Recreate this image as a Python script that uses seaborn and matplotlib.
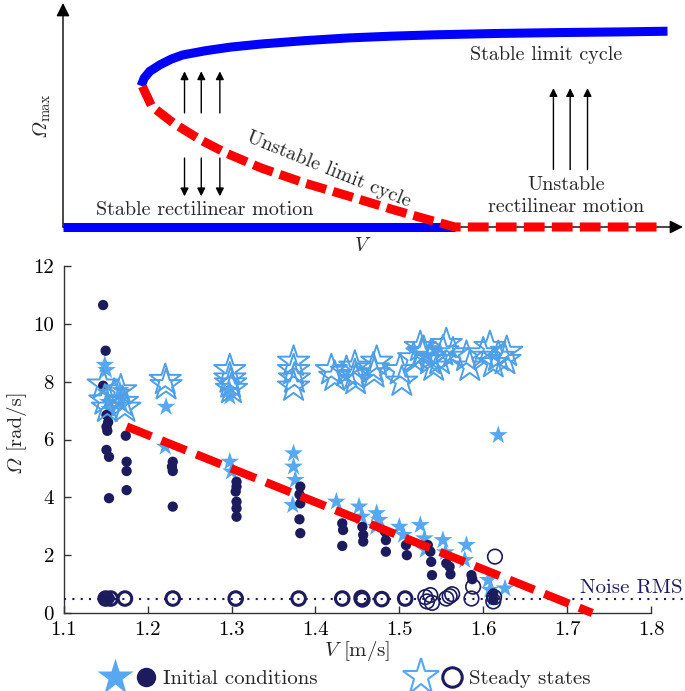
import matplotlib
matplotlib.use('Agg')
import matplotlib.pyplot as plt
from matplotlib.lines import Line2D
from matplotlib.legend_handler import HandlerTuple
import seaborn as sns

# ---------------- data ----------------
# top panel (schematic bifurcation diagram, axis units 0..1)
stable_lc_x = [0.126, 0.131, 0.140, 0.157, 0.175, 0.193, 0.23, 0.27, 0.32, 0.39,
               0.46, 0.53, 0.60, 0.70, 0.80, 0.90, 0.975]
stable_lc_y = [0.630, 0.665, 0.695, 0.725, 0.750, 0.768, 0.787, 0.803, 0.817, 0.832,
               0.844, 0.852, 0.858, 0.864, 0.868, 0.871, 0.874]
unstable_lc_x = [0.128, 0.143, 0.178, 0.221, 0.263, 0.32, 0.39, 0.462, 0.533, 0.589, 0.632, 0.961]
unstable_lc_y = [0.628, 0.539, 0.464, 0.390, 0.330, 0.263, 0.196, 0.137, 0.077, 0.033, 0.0, 0.0]
stable_rect_x = [0.0, 0.632]
stable_rect_y = [0.0, 0.0]

# bottom panel, initial conditions (filled stars / filled dots)
init_star_v = [1.149, 1.151, 1.153, 1.155, 1.167, 1.169, 1.170,
               1.222, 1.221, 1.298, 1.298, 1.298, 1.300,
               1.374, 1.374, 1.376, 1.373, 1.425, 1.452, 1.455,
               1.473, 1.476, 1.472, 1.500, 1.505, 1.525, 1.530, 1.531,
               1.552, 1.555, 1.580, 1.578, 1.606, 1.608, 1.626, 1.612, 1.618]
init_star_w = [8.58, 8.40, 7.30, 7.05, 7.71, 7.40, 7.20,
               7.13, 5.75, 7.71, 7.48, 5.23, 4.89,
               5.52, 5.06, 4.60, 3.73, 3.85, 3.68, 3.33,
               3.45, 3.22, 2.98, 2.98, 2.70, 3.04, 2.58, 2.18,
               2.52, 2.10, 2.35, 1.83, 1.14, 0.80, 0.85, 0.50, 6.15]

init_dot_v = [1.147, 1.150, 1.147, 1.151, 1.153, 1.151, 1.152, 1.151, 1.154, 1.154, 1.148, 1.155,
              1.174, 1.175, 1.175, 1.175,
              1.230, 1.229, 1.230, 1.230,
              1.306, 1.306, 1.305, 1.306, 1.306, 1.306,
              1.382, 1.381, 1.382, 1.381, 1.382,
              1.432, 1.433, 1.432,
              1.456, 1.457, 1.457,
              1.483, 1.484, 1.484,
              1.508, 1.509,
              1.534, 1.537, 1.538, 1.539,
              1.556, 1.560, 1.561,
              1.586, 1.587,
              1.612, 1.612]
init_dot_w = [10.65, 9.07, 7.86, 6.85, 6.60, 6.44, 6.30, 5.64, 5.40, 3.97, 0.50, 0.50,
              6.13, 5.23, 4.91, 4.25,
              5.23, 5.06, 4.91, 3.68,
              4.54, 4.37, 4.20, 3.85, 3.62, 3.33,
              4.37, 4.10, 3.79, 3.24, 2.76,
              3.10, 2.87, 2.32,
              2.98, 2.70, 2.47,
              2.81, 2.52, 2.12,
              2.35, 2.00,
              2.35, 2.12, 1.77, 1.31,
              1.72, 1.60, 1.34,
              1.31, 1.17,
              0.68, 0.45]

# bottom panel, steady states (open stars / open circles)
steady_star_v = [1.147, 1.149, 1.152, 1.160, 1.168, 1.170, 1.173,
                 1.221, 1.222,
                 1.298, 1.298, 1.299, 1.300,
                 1.374, 1.374, 1.375, 1.374,
                 1.419, 1.423, 1.437, 1.447, 1.447, 1.448, 1.473, 1.469, 1.470,
                 1.501, 1.503, 1.517, 1.525, 1.527, 1.529, 1.537, 1.541, 1.537,
                 1.548, 1.552, 1.556, 1.564, 1.580, 1.584, 1.600, 1.608, 1.612,
                 1.618, 1.628, 1.626]
steady_star_w = [7.90, 7.35, 7.10, 7.55, 7.70, 7.30, 7.10,
                 8.06, 7.88,
                 8.40, 8.11, 7.94, 7.75,
                 8.69, 8.40, 8.11, 7.83,
                 8.40, 8.17, 8.34, 8.52, 8.23, 8.06, 8.69, 8.46, 8.29,
                 8.40, 8.00, 8.81, 9.20, 8.98, 9.03, 8.75, 8.52, 8.86,
                 8.75, 9.05, 9.30, 8.98, 8.86, 8.52, 8.98, 9.20, 8.64,
                 8.86, 9.03, 8.75]

steady_circ_v = [1.150, 1.156, 1.173, 1.230, 1.305, 1.380, 1.432, 1.455, 1.456, 1.479, 1.507]
steady_circ_w = [0.50, 0.50, 0.50, 0.50, 0.50, 0.50, 0.50, 0.52, 0.47, 0.48, 0.50]
steady_circ2_v = [1.531, 1.533, 1.537, 1.539, 1.556, 1.560, 1.563, 1.586, 1.588, 1.612, 1.613, 1.614]
steady_circ2_w = [0.55, 0.40, 0.62, 0.35, 0.50, 0.58, 0.65, 0.50, 0.91, 0.40, 0.55, 1.95]

# linear trend of the unstable branch and noise level
fit_v = [1.175, 1.730]
fit_w = [6.45, 0.0]
noise_v = [1.10, 1.84]
noise_w = [0.5, 0.5]

x_ticks = [1.1, 1.2, 1.3, 1.4, 1.5, 1.6, 1.7, 1.8]
y_ticks = [0, 2, 4, 6, 8, 10, 12]

# ---------------- style ----------------
sns.set_style('ticks')
plt.rcParams['font.family'] = ['cmr10']
plt.rcParams['mathtext.fontset'] = 'cm'
plt.rcParams['axes.formatter.use_mathtext'] = True
plt.rcParams['axes.unicode_minus'] = False

light = '#56A8F2'
light_edge = '#4E9FE6'
navy = '#1B1B5E'
red = '#FF0000'
blue = '#0000FF'
OMEGA_IT = chr(0xAD)  # italic capital Omega in the bundled cmmi10 font

fig = plt.figure(figsize=(6.85, 6.91), dpi=100)

# ---------------- top panel ----------------
ax_t = fig.add_axes([63 / 685, (691 - 227) / 691, 620 / 685, 224 / 691])
ax_t.set_xlim(0, 1)
ax_t.set_ylim(0, 1)
ax_t.axis('off')

axis_arrow = dict(arrowstyle='-|>', color='k', lw=1.0, mutation_scale=20, shrinkA=0, shrinkB=0)
ax_t.annotate('', xy=(1, 0), xytext=(0, 0), arrowprops=axis_arrow, annotation_clip=False)
ax_t.annotate('', xy=(0, 1), xytext=(0, 0), arrowprops=axis_arrow, annotation_clip=False)

ax_t.plot(stable_rect_x, stable_rect_y, color=blue, lw=6.5, solid_capstyle='butt', clip_on=False, zorder=3)
ax_t.plot(stable_lc_x, stable_lc_y, color=blue, lw=6.5, solid_capstyle='butt', clip_on=False, zorder=3)
ax_t.plot(unstable_lc_x, unstable_lc_y, color=red, lw=6.5, linestyle=(0, (2.3, 0.8)),
          dash_capstyle='butt', clip_on=False, zorder=4)

small_arrow = dict(arrowstyle='-|>', color='k', lw=1.0, mutation_scale=12, shrinkA=0, shrinkB=0)
for xa in [0.196, 0.223, 0.253]:
    ax_t.annotate('', xy=(xa, 0.695), xytext=(xa, 0.509), arrowprops=small_arrow)
    ax_t.annotate('', xy=(xa, 0.137), xytext=(xa, 0.308), arrowprops=small_arrow)
for xa in [0.791, 0.818, 0.846]:
    ax_t.annotate('', xy=(xa, 0.62), xytext=(xa, 0.256), arrowprops=small_arrow)

ax_t.text(0.78, 0.769, 'Stable limit cycle', ha='center', va='center', fontsize=14.5)
ax_t.text(0.428, 0.256, 'Unstable limit cycle', ha='center', va='center', fontsize=14.5,
          rotation=-22, rotation_mode='anchor')
ax_t.text(0.228, 0.074, 'Stable rectilinear motion', ha='center', va='center', fontsize=14.5)
ax_t.text(0.812, 0.138, 'Unstable\nrectilinear motion', ha='center', va='center', fontsize=14.5,
          linespacing=1.35)
# Omega_max label: italic Omega + upright subscript
ax_t.text(-0.036, 0.44, OMEGA_IT, family='cmmi10', ha='center', va='center', fontsize=15, rotation=90)
ax_t.text(-0.028, 0.535, 'max', ha='center', va='center', fontsize=10.5, rotation=90)
ax_t.text(0.483, -0.086, r'$V$', ha='center', va='center', fontsize=14.5)

# ---------------- bottom panel ----------------
ax = fig.add_axes([63.7 / 685, (691 - 613) / 691, (651 - 63.7) / 685, (613 - 266) / 691])

sns.scatterplot(x=init_star_v, y=init_star_w, marker='*', s=200, color=light, edgecolor='none',
                linewidth=0, ax=ax, zorder=2)
sns.scatterplot(x=init_dot_v, y=init_dot_w, marker='o', s=55, color=navy, edgecolor='none',
                linewidth=0, ax=ax, zorder=3)
sns.scatterplot(x=steady_star_v, y=steady_star_w, marker='*', s=560, facecolor='none',
                edgecolor=light_edge, linewidth=1.4, ax=ax, zorder=4)
sns.scatterplot(x=steady_circ_v, y=steady_circ_w, marker='o', s=95, facecolor='none',
                edgecolor=navy, linewidth=2.2, ax=ax, zorder=4)
sns.scatterplot(x=steady_circ2_v, y=steady_circ2_w, marker='o', s=110, facecolor='none',
                edgecolor=navy, linewidth=1.2, ax=ax, zorder=4)

ax.plot(noise_v, noise_w, color=navy, lw=1.5, linestyle=(0, (1, 3)), clip_on=False, zorder=3)
ax.plot(fit_v, fit_w, color=red, lw=6, linestyle=(0, (3.2, 1.3)), dash_capstyle='butt',
        clip_on=False, zorder=6)
ax.text(1.838, 0.88, 'Noise RMS', ha='right', va='center', fontsize=15, color=navy)

ax.set_xlim(1.1, 1.8)
ax.set_ylim(0, 12)
ax.set_xticks(x_ticks)
ax.set_yticks(y_ticks)
ax.set_xticklabels([f'{t:.1f}' for t in x_ticks])
ax.set_yticklabels([str(t) for t in y_ticks])
ax.tick_params(direction='in', length=5, width=1, labelsize=15, colors='#333333', labelcolor='k')
ax.tick_params(axis='y', pad=7)
ax.tick_params(axis='x', pad=6)
for s in ['left', 'bottom']:
    ax.spines[s].set_color('#333333')
    ax.spines[s].set_linewidth(1.0)
sns.despine(ax=ax)
ax.set_xlabel(r'$V$ [m/s]', fontsize=15, labelpad=0)
# y label: italic Omega (cmmi10) followed by the unit
ax.text(-0.083, 0.428, OMEGA_IT, family='cmmi10', fontsize=15, rotation=90,
        ha='center', va='center', transform=ax.transAxes)
ax.text(-0.083, 0.56, '[rad/s]', fontsize=15, rotation=90,
        ha='center', va='center', transform=ax.transAxes)

# ---------------- legend ----------------
h_star = Line2D([], [], marker='*', ls='none', ms=28, color=light, mec='none')
h_dot = Line2D([], [], marker='o', ls='none', ms=14, color=navy, mec='none')
h_ostar = Line2D([], [], marker='*', ls='none', ms=28, mfc='none', mec=light, mew=1.5)
h_ocirc = Line2D([], [], marker='o', ls='none', ms=14, mfc='none', mec=navy, mew=2.2)
fig.legend(handles=[(h_star, h_dot), (h_ostar, h_ocirc)],
           labels=['Initial conditions', 'Steady states'],
           handler_map={tuple: HandlerTuple(ndivide=None, pad=0.15)},
           ncol=2, loc='center', bbox_to_anchor=(0.505, 0.018), frameon=False, fontsize=15,
           handlelength=2.8, handletextpad=0.15, columnspacing=4.3, borderaxespad=0, borderpad=0)

fig.savefig('out.png', dpi=100)
